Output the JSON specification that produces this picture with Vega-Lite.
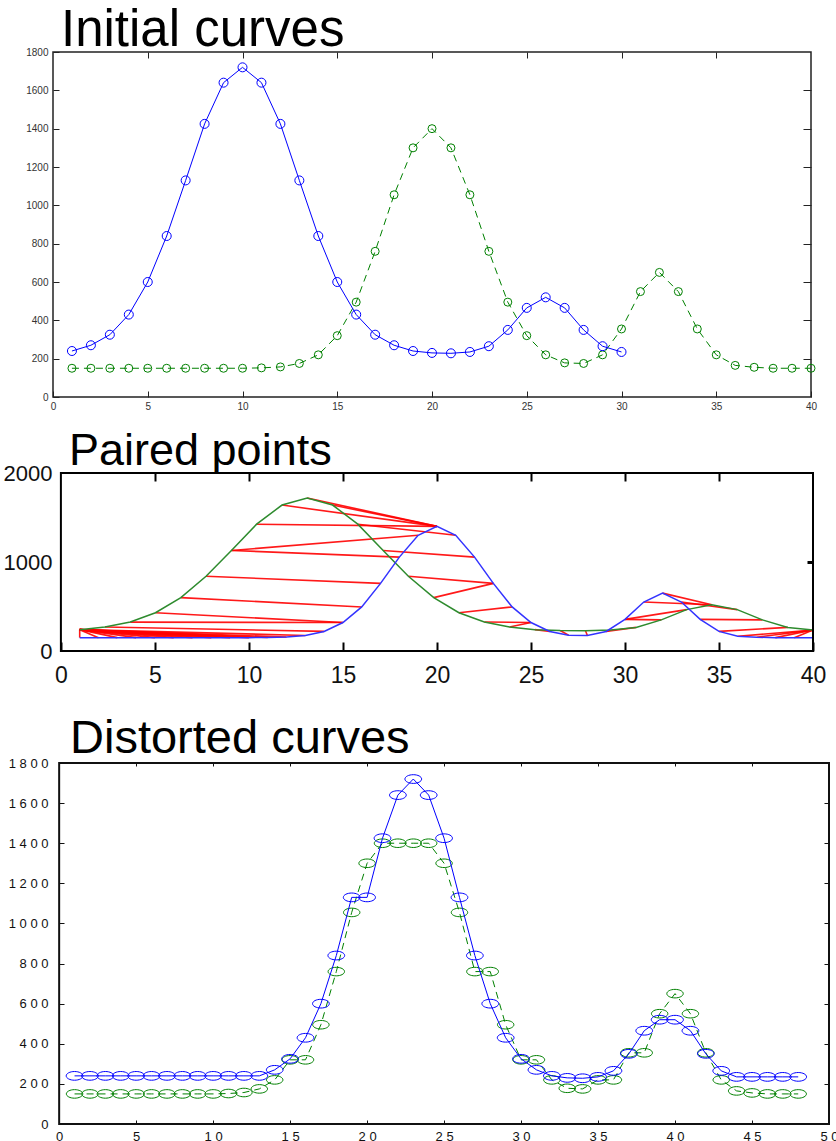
{
  "$schema": "https://vega.github.io/schema/vega-lite/v6.json",
  "background": "white",
  "padding": {"left": 0, "top": 4, "right": 0, "bottom": 0},
  "config": {"view": {"stroke": null}},
  "datasets": {
    "c1": [{"x":1,"y":240},{"x":2,"y":270},{"x":3,"y":325},{"x":4,"y":430},{"x":5,"y":600},{"x":6,"y":840},{"x":7,"y":1130},{"x":8,"y":1425},{"x":9,"y":1640},{"x":10,"y":1720},{"x":11,"y":1640},{"x":12,"y":1425},{"x":13,"y":1130},{"x":14,"y":840},{"x":15,"y":600},{"x":16,"y":430},{"x":17,"y":325},{"x":18,"y":270},{"x":19,"y":240},{"x":20,"y":230},{"x":21,"y":228},{"x":22,"y":235},{"x":23,"y":265},{"x":24,"y":350},{"x":25,"y":465},{"x":26,"y":520},{"x":27,"y":465},{"x":28,"y":350},{"x":29,"y":265},{"x":30,"y":235}],
    "c2": [{"x":1,"y":150},{"x":2,"y":150},{"x":3,"y":150},{"x":4,"y":150},{"x":5,"y":150},{"x":6,"y":150},{"x":7,"y":150},{"x":8,"y":150},{"x":9,"y":150},{"x":10,"y":150},{"x":11,"y":152},{"x":12,"y":157},{"x":13,"y":175},{"x":14,"y":220},{"x":15,"y":320},{"x":16,"y":495},{"x":17,"y":760},{"x":18,"y":1055},{"x":19,"y":1300},{"x":20,"y":1400},{"x":21,"y":1300},{"x":22,"y":1055},{"x":23,"y":760},{"x":24,"y":495},{"x":25,"y":320},{"x":26,"y":220},{"x":27,"y":178},{"x":28,"y":175},{"x":29,"y":220},{"x":30,"y":355},{"x":31,"y":550},{"x":32,"y":650},{"x":33,"y":550},{"x":34,"y":355},{"x":35,"y":220},{"x":36,"y":165},{"x":37,"y":155},{"x":38,"y":150},{"x":39,"y":150},{"x":40,"y":150}],
    "p2g": [{"x":1.00,"y":240},{"x":2.34,"y":270},{"x":3.69,"y":325},{"x":5.03,"y":430},{"x":6.38,"y":600},{"x":7.72,"y":840},{"x":9.07,"y":1130},{"x":10.41,"y":1425},{"x":11.76,"y":1640},{"x":13.10,"y":1720},{"x":14.45,"y":1640},{"x":15.79,"y":1425},{"x":17.14,"y":1130},{"x":18.48,"y":840},{"x":19.83,"y":600},{"x":21.17,"y":430},{"x":22.52,"y":325},{"x":23.86,"y":270},{"x":25.21,"y":240},{"x":26.55,"y":230},{"x":27.90,"y":228},{"x":29.24,"y":235},{"x":30.59,"y":265},{"x":31.93,"y":350},{"x":33.28,"y":465},{"x":34.62,"y":520},{"x":35.97,"y":465},{"x":37.31,"y":350},{"x":38.66,"y":265},{"x":40.00,"y":235}],
    "pairs": [
      {"x":1.00,"y":240,"x2":1,"y2":150},{"x":1.00,"y":240,"x2":2,"y2":150},{"x":1.00,"y":240,"x2":3,"y2":150},{"x":1.00,"y":240,"x2":4,"y2":150},{"x":1.00,"y":240,"x2":5,"y2":150},{"x":1.00,"y":240,"x2":6,"y2":150},{"x":1.00,"y":240,"x2":7,"y2":150},{"x":1.00,"y":240,"x2":8,"y2":150},{"x":1.00,"y":240,"x2":9,"y2":150},{"x":1.00,"y":240,"x2":10,"y2":150},{"x":1.00,"y":240,"x2":11,"y2":152},{"x":1.00,"y":240,"x2":12,"y2":157},{"x":1.00,"y":240,"x2":13,"y2":175},
      {"x":2.34,"y":270,"x2":14,"y2":220},{"x":3.69,"y":325,"x2":15,"y2":320},{"x":5.03,"y":430,"x2":15,"y2":320},{"x":6.38,"y":600,"x2":16,"y2":495},{"x":7.72,"y":840,"x2":17,"y2":760},{"x":9.07,"y":1130,"x2":18,"y2":1055},{"x":9.07,"y":1130,"x2":19,"y2":1300},{"x":10.41,"y":1425,"x2":20,"y2":1400},{"x":11.76,"y":1640,"x2":20,"y2":1400},{"x":13.10,"y":1720,"x2":20,"y2":1400},{"x":14.45,"y":1640,"x2":20,"y2":1400},{"x":15.79,"y":1425,"x2":21,"y2":1300},{"x":17.14,"y":1130,"x2":22,"y2":1055},{"x":18.48,"y":840,"x2":23,"y2":760},{"x":19.83,"y":600,"x2":23,"y2":760},{"x":21.17,"y":430,"x2":24,"y2":495},{"x":22.52,"y":325,"x2":25,"y2":320},{"x":23.86,"y":270,"x2":25,"y2":320},{"x":25.21,"y":240,"x2":26,"y2":220},{"x":26.55,"y":230,"x2":27,"y2":178},{"x":27.90,"y":228,"x2":28,"y2":175},{"x":29.24,"y":235,"x2":29,"y2":220},{"x":30.59,"y":265,"x2":29,"y2":220},{"x":31.93,"y":350,"x2":30,"y2":355},{"x":33.28,"y":465,"x2":30,"y2":355},{"x":34.62,"y":520,"x2":31,"y2":550},{"x":34.62,"y":520,"x2":32,"y2":650},{"x":35.97,"y":465,"x2":33,"y2":550},{"x":37.31,"y":350,"x2":34,"y2":355},{"x":38.66,"y":265,"x2":35,"y2":220},{"x":40.00,"y":235,"x2":36,"y2":165},{"x":40.00,"y":235,"x2":37,"y2":155},{"x":40.00,"y":235,"x2":38,"y2":150},{"x":40.00,"y":235,"x2":39,"y2":150},{"x":40.00,"y":235,"x2":40,"y2":150}
    ],
    "dist": [
      {"k":1,"b":240,"g":150},{"k":2,"b":240,"g":150},{"k":3,"b":240,"g":150},{"k":4,"b":240,"g":150},{"k":5,"b":240,"g":150},{"k":6,"b":240,"g":150},{"k":7,"b":240,"g":150},{"k":8,"b":240,"g":150},{"k":9,"b":240,"g":150},{"k":10,"b":240,"g":150},{"k":11,"b":240,"g":152},{"k":12,"b":240,"g":157},{"k":13,"b":240,"g":175},{"k":14,"b":270,"g":220},{"k":15,"b":325,"g":320},{"k":16,"b":430,"g":320},{"k":17,"b":600,"g":495},{"k":18,"b":840,"g":760},{"k":19,"b":1130,"g":1055},{"k":20,"b":1130,"g":1300},{"k":21,"b":1425,"g":1400},{"k":22,"b":1640,"g":1400},{"k":23,"b":1720,"g":1400},{"k":24,"b":1640,"g":1400},{"k":25,"b":1425,"g":1300},{"k":26,"b":1130,"g":1055},{"k":27,"b":840,"g":760},{"k":28,"b":600,"g":760},{"k":29,"b":430,"g":495},{"k":30,"b":325,"g":320},{"k":31,"b":270,"g":320},{"k":32,"b":240,"g":220},{"k":33,"b":230,"g":178},{"k":34,"b":228,"g":175},{"k":35,"b":235,"g":220},{"k":36,"b":265,"g":220},{"k":37,"b":350,"g":355},{"k":38,"b":465,"g":355},{"k":39,"b":520,"g":550},{"k":40,"b":520,"g":650},{"k":41,"b":465,"g":550},{"k":42,"b":350,"g":355},{"k":43,"b":265,"g":220},{"k":44,"b":235,"g":165},{"k":45,"b":235,"g":155},{"k":46,"b":235,"g":150},{"k":47,"b":235,"g":150},{"k":48,"b":235,"g":150}
    ]
  },
  "concat": [
    {
      "width": 758,
      "height": 345,
      "title": {"text": "Initial curves", "anchor": "start", "frame": "group", "fontSize": 51, "font": "Liberation Sans", "fontWeight": "normal", "color": "#000000", "offset": -10, "dx": 8},
      "view": {"stroke": "#222222", "strokeWidth": 1.5},
      "resolve": {"axis": {"x": "independent", "y": "independent"}},
      "layer": [
        {
          "data": {"name": "c2"},
          "mark": {"type": "line", "color": "#008000", "strokeWidth": 1, "strokeDash": [7, 5]},
          "encoding": {
            "x": {"field": "x", "type": "quantitative", "scale": {"domain": [0, 40], "nice": false, "zero": false},
                  "axis": {"orient": "top", "values": [5,10,15,20,25,30,35], "labels": false, "tickSize": -6, "tickColor": "#222222", "domain": false, "grid": false, "title": null}},
            "y": {"field": "y", "type": "quantitative", "scale": {"domain": [0, 1800], "nice": false},
                  "axis": {"orient": "right", "values": [200,400,600,800,1000,1200,1400,1600], "labels": false, "tickSize": -8, "tickColor": "#222222", "domain": false, "grid": false, "title": null}}
          }
        },
        {
          "data": {"name": "c2"},
          "mark": {"type": "point", "shape": "circle", "size": 64, "filled": false, "color": "#008000", "strokeWidth": 1, "opacity": 1},
          "encoding": {
            "x": {"field": "x", "type": "quantitative", "axis": null},
            "y": {"field": "y", "type": "quantitative", "axis": null}
          }
        },
        {
          "data": {"name": "c1"},
          "mark": {"type": "line", "color": "#0000ff", "strokeWidth": 1},
          "encoding": {
            "x": {"field": "x", "type": "quantitative",
                  "axis": {"orient": "bottom", "values": [0,5,10,15,20,25,30,35,40], "format": "d", "tickSize": -6, "tickColor": "#222222", "labelPadding": 10, "labelFontSize": 10, "labelFont": "Liberation Sans", "labelColor": "#333333", "labelFlush": false, "labelOverlap": false, "domain": false, "grid": false, "title": null, "minExtent": 31}},
            "y": {"field": "y", "type": "quantitative",
                  "axis": {"orient": "left", "values": [0,200,400,600,800,1000,1200,1400,1600,1800], "format": "d", "tickSize": -6, "tickColor": "#222222", "labelPadding": 11, "labelFontSize": 10, "labelFont": "Liberation Sans", "labelColor": "#333333", "labelFlush": false, "labelOverlap": false, "domain": false, "grid": false, "title": null, "minExtent": 52}}
          }
        },
        {
          "data": {"name": "c1"},
          "mark": {"type": "point", "shape": "circle", "size": 81, "filled": false, "color": "#0000ff", "strokeWidth": 1, "opacity": 1},
          "encoding": {
            "x": {"field": "x", "type": "quantitative", "axis": null},
            "y": {"field": "y", "type": "quantitative", "axis": null}
          }
        }
      ]
    },
    {
      "width": 760,
      "height": 178,
      "title": {"text": "Paired points", "anchor": "start", "frame": "group", "fontSize": 45, "font": "Liberation Sans", "fontWeight": "normal", "color": "#000000", "offset": -12, "dx": 16},
      "resolve": {"axis": {"x": "independent", "y": "independent"}},
      "layer": [
        {
          "data": {"name": "pairs"},
          "mark": {"type": "rule", "color": "#ff0000", "strokeWidth": 1.6, "opacity": 0.9},
          "encoding": {
            "x": {"field": "x", "type": "quantitative", "scale": {"domain": [-0.42, 40], "nice": false, "zero": false},
                  "axis": {"orient": "bottom", "values": [0,5,10,15,20,25,30,35,40], "format": "d", "tickSize": -9, "tickWidth": 2, "tickColor": "#000000", "labelPadding": 22, "labelFontSize": 23, "labelFont": "Liberation Sans", "labelColor": "#111111", "labelFlush": false, "labelOverlap": false, "domain": false, "grid": false, "title": null, "minExtent": 64}},
            "y": {"field": "y", "type": "quantitative", "scale": {"domain": [0, 2000], "nice": false},
                  "axis": {"orient": "left", "offset": -8, "values": [0,1000,2000], "format": "d", "tickSize": -8, "tickOpacity": 0, "labelPadding": 17, "labelFontSize": 22, "labelFont": "Liberation Sans", "labelColor": "#111111", "labelFlush": false, "labelOverlap": false, "domain": false, "grid": false, "title": null, "minExtent": 60}},
            "x2": {"field": "x2"},
            "y2": {"field": "y2"}
          }
        },
        {
          "data": {"name": "p2g"},
          "mark": {"type": "line", "color": "#2e8b2e", "strokeWidth": 1.5},
          "encoding": {
            "x": {"field": "x", "type": "quantitative",
                  "axis": {"orient": "top", "values": [5,10,15,20,25,30,35], "labels": false, "tickSize": -8, "tickWidth": 2, "tickColor": "#000000", "domain": false, "grid": false, "title": null}},
            "y": {"field": "y", "type": "quantitative",
                  "axis": {"orient": "right", "values": [1000], "labels": false, "tickSize": -6, "tickWidth": 3, "tickColor": "#000000", "domain": false, "grid": false, "title": null}}
          }
        },
        {
          "data": {"name": "c2"},
          "mark": {"type": "line", "color": "#3333ff", "strokeWidth": 1.5},
          "encoding": {
            "x": {"field": "x", "type": "quantitative", "axis": null},
            "y": {"field": "y", "type": "quantitative", "axis": null}
          }
        },
        {
          "data": {"values": [{}]},
          "mark": {"type": "rect", "fillOpacity": 0, "stroke": "#000000", "strokeWidth": 2},
          "encoding": {
            "x": {"datum": 0, "type": "quantitative", "axis": null},
            "x2": {"datum": 40},
            "y": {"datum": 0, "type": "quantitative", "axis": null},
            "y2": {"datum": 2000}
          }
        }
      ]
    },
    {
      "width": 776,
      "height": 361,
      "title": {"text": "Distorted curves", "anchor": "start", "frame": "group", "fontSize": 47, "font": "Liberation Sans", "fontWeight": "normal", "color": "#000000", "offset": -6, "dx": 17},
      "resolve": {"axis": {"x": "independent", "y": "independent"}},
      "layer": [
        {
          "data": {"name": "dist"},
          "mark": {"type": "line", "color": "#008000", "strokeWidth": 1, "strokeDash": [7, 5]},
          "encoding": {
            "x": {"field": "k", "type": "quantitative", "scale": {"domain": [-0.4, 50], "nice": false, "zero": false},
                  "axis": {"orient": "top", "values": [5,10,15,20,25,30,35,40,45], "labels": false, "tickSize": -3, "tickColor": "#111111", "domain": false, "grid": false, "title": null}},
            "y": {"field": "g", "type": "quantitative", "scale": {"domain": [0, 1800], "nice": false},
                  "axis": {"orient": "right", "values": [200,400,600,800,1000,1200,1400,1600], "labels": false, "tickSize": -5, "tickColor": "#111111", "domain": false, "grid": false, "title": null}}
          }
        },
        {
          "data": {"name": "dist"},
          "mark": {"type": "point", "shape": "M-1,0A1,0.52,0,1,1,1,0A1,0.52,0,1,1,-1,0Z", "size": 270, "filled": false, "color": "#008000", "strokeWidth": 1, "opacity": 1},
          "encoding": {
            "x": {"field": "k", "type": "quantitative", "axis": null},
            "y": {"field": "g", "type": "quantitative", "axis": null}
          }
        },
        {
          "data": {"name": "dist"},
          "mark": {"type": "line", "color": "#0000ff", "strokeWidth": 1},
          "encoding": {
            "x": {"field": "k", "type": "quantitative",
                  "axis": {"orient": "bottom", "values": [0,5,10,15,20,25,30,35,40,45,50], "format": "d", "labelExpr": "join(split(datum.label, ''), ' ')", "tickSize": -4, "tickColor": "#111111", "labelPadding": 10, "labelFontSize": 13, "labelFont": "Liberation Sans", "labelColor": "#111111", "labelFlush": false, "labelOverlap": false, "domain": false, "grid": false, "title": null}},
            "y": {"field": "b", "type": "quantitative",
                  "axis": {"orient": "left", "offset": -6, "values": [0,200,400,600,800,1000,1200,1400,1600,1800], "format": "d", "labelExpr": "join(split(datum.label, ''), ' ')", "tickSize": -5, "tickColor": "#111111", "labelPadding": 16, "labelFontSize": 13, "labelFont": "Liberation Sans", "labelColor": "#111111", "labelFlush": false, "labelOverlap": false, "domain": false, "grid": false, "title": null, "minExtent": 58}}
          }
        },
        {
          "data": {"name": "dist"},
          "mark": {"type": "point", "shape": "M-1,0A1,0.52,0,1,1,1,0A1,0.52,0,1,1,-1,0Z", "size": 280, "filled": false, "color": "#0000ff", "strokeWidth": 1, "opacity": 1},
          "encoding": {
            "x": {"field": "k", "type": "quantitative", "axis": null},
            "y": {"field": "b", "type": "quantitative", "axis": null}
          }
        },
        {
          "data": {"values": [{}]},
          "mark": {"type": "rect", "fillOpacity": 0, "stroke": "#111111", "strokeWidth": 2},
          "encoding": {
            "x": {"datum": 0, "type": "quantitative", "axis": null},
            "x2": {"datum": 50},
            "y": {"datum": 0, "type": "quantitative", "axis": null},
            "y2": {"datum": 1800}
          }
        }
      ]
    }
  ],
  "columns": 1,
  "align": "none",
  "bounds": "full",
  "spacing": 0
}
